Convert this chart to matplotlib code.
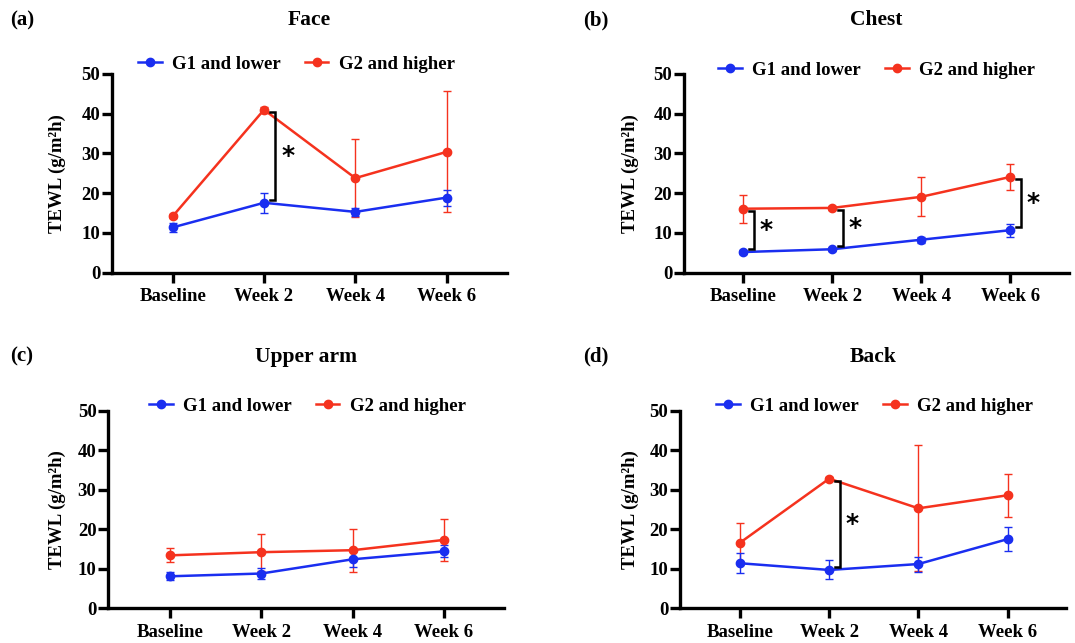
import numpy as np
import matplotlib.pyplot as plt
from matplotlib.lines import Line2D

W, H = 1075, 643

TIMEPOINTS = ['Baseline', 'Week 2', 'Week 4', 'Week 6']
SITES = ['Face', 'Chest', 'Upper arm', 'Back']
PANEL_TAGS = ['(a)', '(b)', '(c)', '(d)']
SERIES = ['G1 and lower', 'G2 and higher']

face_g1 = [11.4, 17.6, 15.3, 18.9]
face_g1_err = [1.2, 2.5, 1.1, 2.0]
face_g2 = [14.2, 41.0, 23.8, 30.4]
face_g2_err = [0.5, 0.7, 9.8, 15.2]

chest_g1 = [5.2, 5.9, 8.3, 10.7]
chest_g1_err = [0.4, 0.4, 0.8, 1.6]
chest_g2 = [16.1, 16.3, 19.1, 24.1]
chest_g2_err = [3.5, 0.5, 4.9, 3.2]

arm_g1 = [8.1, 8.8, 12.4, 14.4]
arm_g1_err = [1.0, 1.4, 2.0, 1.5]
arm_g2 = [13.4, 14.2, 14.7, 17.3]
arm_g2_err = [1.8, 4.7, 5.4, 5.3]

back_g1 = [11.4, 9.7, 11.2, 17.5]
back_g1_err = [2.5, 2.4, 1.9, 3.0]
back_g2 = [16.6, 32.8, 25.3, 28.6]
back_g2_err = [5.0, 0.3, 15.9, 5.5]

# time points with a significant difference (*) per site
face_sig = [1]
chest_sig = [0, 1, 3]
arm_sig = []
back_sig = [1]

BLUE = '#1a2ef0'
RED = '#f5321e'
FONT = 'Liberation Serif'

# pixel layout: axis left, y=0 row, y=50 row, first tick x, tick spacing
LAYOUT = [
    (112, 272.7, 74, 172.7, 91.3),
    (684, 272.7, 74, 743.3, 89.0),
    (108.3, 608.3, 410.7, 170, 91.3),
    (680, 608.3, 410.7, 740, 89.2),
]
LEGEND_X = [0.467, 0.50, 0.503, 0.504]
LEGEND_Y = [1.05, 1.02, 1.024, 1.024]
TAG_X = [10, 583, 10, 583]
YLABEL_X = [66, 639, 66, 639]

plt.rcParams['font.family'] = [FONT, 'DejaVu Serif']
plt.rcParams['font.weight'] = 'bold'

data = [
    (face_g1, face_g1_err, face_g2, face_g2_err, face_sig),
    (chest_g1, chest_g1_err, chest_g2, chest_g2_err, chest_sig),
    (arm_g1, arm_g1_err, arm_g2, arm_g2_err, arm_sig),
    (back_g1, back_g1_err, back_g2, back_g2_err, back_sig),
]

fig = plt.figure(figsize=(W / 100, H / 100), dpi=100)
x = np.arange(len(TIMEPOINTS))

for i, (g1, g1e, g2, g2e, sig) in enumerate(data):
    left, y0, y50, t0, dx = LAYOUT[i]
    xl = -(t0 - left) / dx
    xr = 3.66
    width = (xr - xl) * dx
    ax = fig.add_axes([left / W, 1 - y0 / H, width / W, (y0 - y50) / H])

    for m, e, c in ((g2, g2e, RED), (g1, g1e, BLUE)):
        ax.errorbar(x, m, yerr=e, color=c, ecolor=c, elinewidth=1.0,
                    capsize=3.2, capthick=1.0, lw=1.8, marker='o', ms=6,
                    zorder=3)

    for k in sig:
        top = g2[k] - 0.6
        bot = g1[k] + 0.8
        bx = k + 0.12
        ax.plot([bx - 0.055, bx, bx, bx - 0.055], [top, top, bot, bot],
                color='black', lw=1.8, solid_joinstyle='miter', zorder=4)
        ax.text(bx + 0.14, (top + bot) / 2, '*', family='DejaVu Sans',
                fontsize=18, fontweight='bold', ha='center', va='center')

    ax.set_xlim(xl, xr)
    ax.set_ylim(0, 50)
    ax.set_yticks([0, 10, 20, 30, 40, 50])
    ax.set_xticks(x)
    ax.set_xticklabels(TIMEPOINTS)
    for s in ('top', 'right'):
        ax.spines[s].set_visible(False)
    for s in ('left', 'bottom'):
        ax.spines[s].set_linewidth(2.4)
    ax.tick_params(axis='both', width=2.4, length=7, labelsize=13.5)
    ax.tick_params(axis='y', pad=1.5)
    ax.tick_params(axis='x', pad=4)
    ax.set_ylabel('TEWL (g/m²h)', fontsize=13.5, fontweight='bold')
    ax.yaxis.set_label_coords((YLABEL_X[i] - left) / width, 0.5)

    handles = [Line2D([], [], color=BLUE, lw=1.8, marker='o', ms=6),
               Line2D([], [], color=RED, lw=1.8, marker='o', ms=6)]
    ax.legend(handles, SERIES, loc='center', bbox_to_anchor=(LEGEND_X[i], LEGEND_Y[i]),
              ncol=2, frameon=False, fontsize=13.5, handlelength=1.25,
              handletextpad=0.55, columnspacing=1.3, borderaxespad=0)

    title_y = y50 - 54
    fig.text((left + width * 0.5) / W, 1 - title_y / H, SITES[i], ha='center',
             va='center', fontsize=15.5, fontweight='bold')
    fig.text(TAG_X[i] / W, 1 - title_y / H, PANEL_TAGS[i], ha='left',
             va='center', fontsize=15, fontweight='bold')

fig.savefig('out.png', dpi=100)
